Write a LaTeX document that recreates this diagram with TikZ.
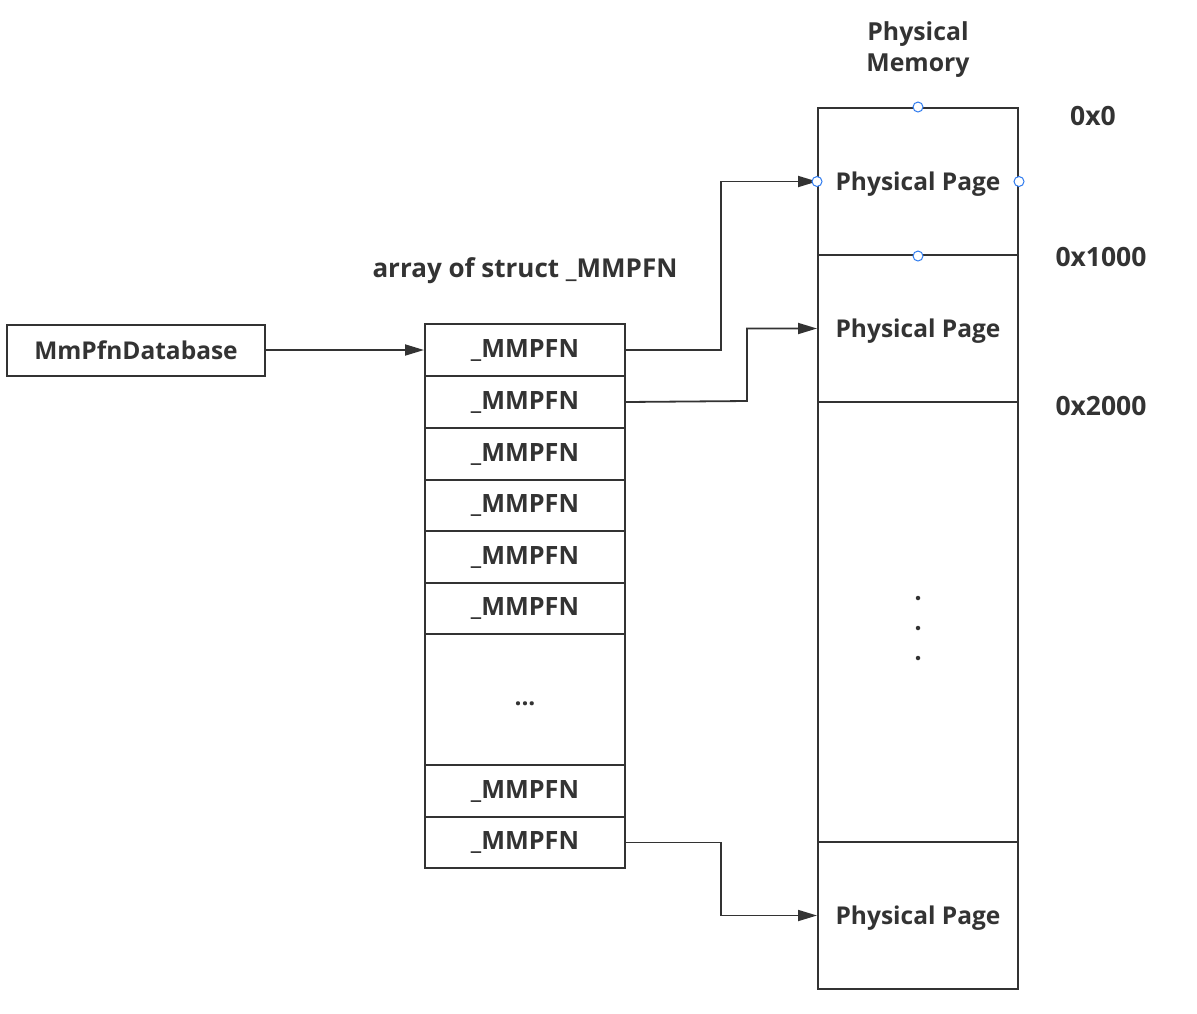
\documentclass[tikz,border=0pt]{standalone}
\usepackage{fontspec}
\setmainfont{Open Sans}
\usetikzlibrary{arrows.meta,positioning}
\definecolor{ink}{HTML}{333333}
\definecolor{anchorblue}{HTML}{2F7BEF}
\newcommand{\fsz}[1]{\bfseries\fontsize{#1}{#1}\selectfont}
\tikzset{
  box/.style={draw=ink, line width=2pt, minimum width=200pt, inner sep=0pt, font=\fsz{24.5}, text=ink},
  pagebox/.style={box, minimum height=147pt, text depth=0pt},
  lbl/.style={font=\fsz{24.5}, text=ink, inner sep=0pt},
  link/.style={draw=ink, line width=1.8pt, -{Triangle[length=19pt,width=11pt]}},
  handle/.style={circle, draw=anchorblue, fill=white, line width=1pt, minimum size=10pt, inner sep=0pt},
  vdot/.style={circle, fill=ink, minimum size=4.5pt, inner sep=0pt}
}
\begin{document}
\begin{tikzpicture}[x=1pt,y=-1pt]
\useasboundingbox (0,0) rectangle (1197,1013);
% database pointer
\node[box, minimum width=258pt, minimum height=51pt] (db) at (136,350) {MmPfnDatabase};
% array
\node[lbl, font=\fsz{26}] (arrtitle) at (525,270.5) {array of struct \_MMPFN};
\node[box, minimum height=52pt, font=\fsz{25.2}] (r1) at (525,350) {\_MMPFN};
\node[box, minimum height=52pt, font=\fsz{25.2}] (r2) at (525,402) {\_MMPFN};
\node[box, minimum height=52pt, font=\fsz{25.2}] (r3) at (525,454) {\_MMPFN};
\node[box, minimum height=51pt, font=\fsz{25.2}] (r4) at (525,505.5) {\_MMPFN};
\node[box, minimum height=52pt, font=\fsz{25.2}] (r5) at (525,557) {\_MMPFN};
\node[box, minimum height=51pt, font=\fsz{25.2}] (r6) at (525,608.5) {\_MMPFN};
\node[box, minimum height=131pt] (r7) at (525,699.5) {};
\node[lbl] (ell) at (525,704) {...};
\node[box, minimum height=52pt, font=\fsz{25.2}] (r8) at (525,791) {\_MMPFN};
\node[box, minimum height=51pt, font=\fsz{25.2}] (r9) at (525,842.5) {\_MMPFN};
% physical memory
\node[lbl, align=center, font=\bfseries\fontsize{24.8}{31}\selectfont] (pmtitle) at (918,50) {Physical\\Memory};
\node[pagebox] (p1) at (918,181.5) {Physical Page};
\node[pagebox] (p2) at (918,328.5) {Physical Page};
\node[box, minimum height=440pt] (p3) at (918,622) {};
\node[pagebox] (p4) at (918,915.5) {Physical Page};
\node[vdot] (d1) at (918,598) {};
\node[vdot] (d2) at (918,628) {};
\node[vdot] (d3) at (918,658) {};
% addresses
\node[lbl, font=\fsz{26.5}] (a0) at (1093,116) {0x0};
\node[lbl, font=\fsz{26.5}] (a1) at (1101,257) {0x1000};
\node[lbl, font=\fsz{26.5}] (a2) at (1101,406) {0x2000};
% connectors
\draw[link] (db.east) -- (r1.west);
\draw[link] (r1.east) -- (721,350) |- (p1.west);
\draw[link] (r2.east) -- (747,401) |- (p2.west);
\draw[link] (r9.east) -- (721,842.5) |- (p4.west);
% selection handles
\node[handle] (h1) at (p1.north) {};
\node[handle] (h2) at (p1.west) {};
\node[handle] (h3) at (p1.east) {};
\node[handle] (h4) at (p1.south) {};
\end{tikzpicture}
\end{document}
